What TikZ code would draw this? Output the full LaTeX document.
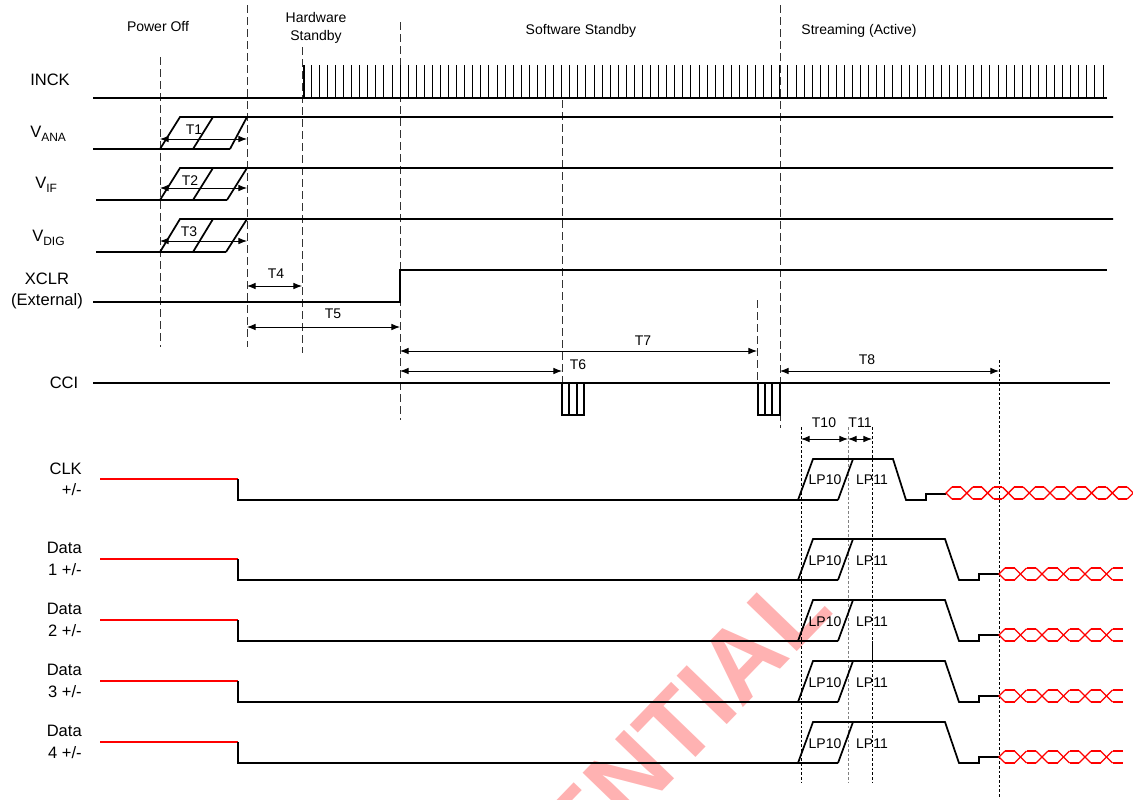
\documentclass[tikz,border=0pt]{standalone}
\usepackage{fontspec}
\setmainfont{Liberation Sans}
\usetikzlibrary{arrows.meta}
\definecolor{wm}{RGB}{255,178,178}
\newcommand\eyepat[5]{%
  \draw[eye] ({#1+6},{#2-6}) -- (#1,#2) -- ({#1+6},{#2+6});
  \foreach \k in {1,...,#4}{%
    \pgfmathsetmacro\cc{#1+\k*#3}%
    \draw[eye] ({\cc-6},{#2-6}) -- ({\cc+6},{#2+6});
    \draw[eye] ({\cc-6},{#2+6}) -- ({\cc+6},{#2-6});
    \draw[eye] ({\cc-#3+6},{#2-6}) -- ({\cc-6},{#2-6});
    \draw[eye] ({\cc-#3+6},{#2+6}) -- ({\cc-6},{#2+6});
  }
  \pgfmathsetmacro\cl{#1+#4*#3}%
  \draw[eye] ({\cl+6},{#2-6}) -- (#5,{#2-6});
  \draw[eye] ({\cl+6},{#2+6}) -- (#5,{#2+6});
}
\newcommand\datarow[2]{% low level, lane number
  \draw[redsig] (100,{#1-21}) -- (238,{#1-21});
  \draw[sig] (238,{#1-21}) -- (238,#1) -- (838,#1);
  \draw[sig] (798,#1) -- (813,{#1-41}) -- (945,{#1-41}) -- (959,#1) -- (979,#1) -- (979,{#1-6}) -- (999,{#1-6});
  \draw[sig] (838,#1) -- (853,{#1-41});
  \node[txt] (lpa#2) at (825,{#1-19}) {LP10};
  \node[txt] (lpb#2) at (872,{#1-19}) {LP11};
  \node[siglbl, anchor=east, align=right] (dlbl#2) at (82,{#1-21}) {Data\\#2 +/-};
  \eyepat{999}{#1-6}{21.5}{5}{1123}
}
\begin{document}
\begin{tikzpicture}[x=0.75pt,y=-0.75pt,
  sig/.style={line width=1.3pt, line join=miter},
  redsig/.style={line width=1.3pt, red},
  eye/.style={line width=1pt, red},
  phase/.style={line width=0.65pt, black!80, dash pattern=on 6pt off 3pt},
  fine/.style={line width=0.5pt, black, dash pattern=on 2pt off 1.5pt},
  dim/.style={line width=0.65pt, {Latex[length=6.5pt,width=5pt]}-{Latex[length=6.5pt,width=5pt]}},
  siglbl/.style={font=\fontsize{12.4}{16}\selectfont, inner sep=0pt},
  txt/.style={font=\fontsize{10.5}{13}\selectfont, inner sep=0pt},
  pulse/.style={line width=0.55pt}]
\useasboundingbox (0,0) rectangle (1133,800);
% watermark
\node[rotate=46, anchor=base east, inner sep=0pt, text=wm, font=\fontsize{76}{76}\selectfont\bfseries] (wmark) at (836,612) {CONFIDENTIAL};

% phase labels
\node[txt] (pOff) at (158,27) {Power Off};
\node[txt, align=center] (pHW) at (316,28) {Hardware\\Standby};
\node[txt] (pSW) at (581,31) {Software Standby};
\node[txt] (pST) at (859,31) {Streaming (Active)};

% phase dashed lines
\draw[phase] (160,57) -- (160,347);
\draw[phase] (247,5) -- (247,347);
\draw[phase] (302,47) -- (302,353);
\draw[phase] (400,22) -- (400,420);
\draw[phase] (562,100) -- (562,415);
\draw[phase] (757,300) -- (757,385);
\draw[phase] (780,5) -- (780,428);

% fine dotted lines
\draw[fine] (801,427) -- (801,782);
\draw[fine, gray] (848,427) -- (848,782);
\draw[fine] (872,427) -- (872,782);
\draw[fine] (999,360) -- (999,798);
\draw[line width=0.6pt] (872,641) -- (872,662);

% signal labels
\node[siglbl, anchor=west] (lINCK) at (30,80) {INCK};
\node[siglbl, anchor=west] (lANA) at (30,134) {V\raisebox{-0.4ex}{\fontsize{9}{9}\selectfont ANA}};
\node[siglbl, anchor=west] (lIF) at (35,185) {V\raisebox{-0.4ex}{\fontsize{9}{9}\selectfont IF}};
\node[siglbl, anchor=west] (lDIG) at (32,238) {V\raisebox{-0.4ex}{\fontsize{9}{9}\selectfont DIG}};
\node[siglbl, align=center] (lXCLR) at (47,291) {XCLR\\(External)};
\node[siglbl] (lCCI) at (64,383) {CCI};
\node[siglbl, anchor=east, align=right] (lCLK) at (82,479) {CLK\\+/-};

% INCK
\draw[sig] (93,98) -- (1107,98);
\foreach \i in {0,...,99} \draw[pulse] ({303+8.08*\i},98) -- ({303+8.08*\i},65);
\draw[pulse] (304,98) -- (304,65);

% V_ANA, V_IF, V_DIG
\draw[sig] (93,149) -- (230,149);
\draw[sig] (160,149) -- (180,117) -- (1113,117);
\draw[sig] (193,149) -- (213,117);
\draw[sig] (230,149) -- (247,117);
\draw[dim] (160,139) -- (247,139);
\node[txt] (t1) at (194,130) {T1};
\draw[sig] (96,200) -- (227,200);
\draw[sig] (160,200) -- (180,168) -- (1113,168);
\draw[sig] (193,200) -- (213,168);
\draw[sig] (227,200) -- (247,168);
\draw[dim] (160,188) -- (247,188);
\node[txt] (t2) at (190,181) {T2};
\draw[sig] (96,252) -- (226,252);
\draw[sig] (160,252) -- (180,219) -- (1113,219);
\draw[sig] (193,252) -- (213,219);
\draw[sig] (226,252) -- (247,219);
\draw[dim] (160,241) -- (247,241);
\node[txt] (t3) at (189,232) {T3};

% XCLR
\draw[sig] (93,302) -- (400,302) -- (400,270) -- (1107,270);
\draw[dim] (247,286) -- (302,286);
\node[txt] (t4) at (276,274) {T4};
\draw[dim] (247,327) -- (400,327);
\node[txt] (t5) at (333,314) {T5};

% CCI
\draw[dim] (400,351) -- (757,351);
\node[txt] (t7) at (643,341) {T7};
\draw[dim] (400,371) -- (562,371);
\node[txt] (t6) at (578,365) {T6};
\draw[dim] (780,371) -- (999,371);
\node[txt] (t8) at (867,360) {T8};
\draw[sig] (93,383) -- (1110,383);
\draw[line width=1.8pt] (617,383) -- (655,383);
\draw[line width=0.9pt] (562,383) rectangle (584,415);
\draw[line width=0.9pt] (569,383) -- (569,415) (577,383) -- (577,415) (584,383) -- (587,383);
\draw[line width=0.9pt] (758,383) rectangle (780,415);
\draw[line width=0.9pt] (765,383) -- (765,415) (772,383) -- (772,415);

% T10 / T11
\draw[dim] (801,439) -- (848,439);
\draw[dim] (848,439) -- (872,439);
\node[txt] (t10) at (824,423) {T10};
\node[txt] (t11) at (860,423) {T11};

% CLK
\draw[redsig] (100,479) -- (238,479);
\draw[sig] (238,479) -- (238,500) -- (838,500);
\draw[sig] (798,500) -- (813,459) -- (893,459) -- (906,500) -- (926,500) -- (926,494) -- (946,494);
\draw[sig] (838,500) -- (853,459);
\node[txt] (clpa) at (825,480) {LP10};
\node[txt] (clpb) at (872,480) {LP11};
\eyepat{946}{493}{20.8}{9}{1140}

% Data lanes
\datarow{580}{1}
\datarow{641}{2}
\datarow{702}{3}
\datarow{763}{4}
\end{tikzpicture}
\end{document}
